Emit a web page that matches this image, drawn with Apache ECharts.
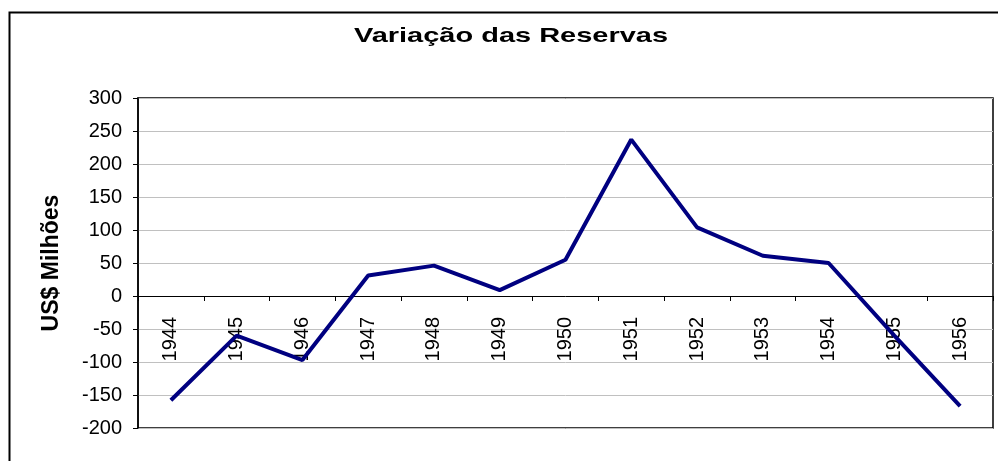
<!DOCTYPE html>
<html>
<head>
<meta charset="utf-8">
<script src="https://cdn.jsdelivr.net/npm/echarts@6/dist/echarts.min.js"></script>
<style>
  html, body { margin: 0; padding: 0; background: #fff; }
  #chart { width: 998px; height: 461px; }
</style>
</head>
<body>
<div id="chart"></div>
<script>
// anos e variação das reservas (US$ milhões)
const years = ['1944', '1945', '1946', '1947', '1948', '1949', '1950', '1951', '1952', '1953', '1954', '1955', '1956']
const reserves = [-158, -60, -97, 31, 46, 9, 55, 237, 104, 61, 50, -60, -167]
const yMin = -200
const yMax = 300

const chart = echarts.init(document.getElementById('chart'))
const labelFont = 'Arial, "Liberation Sans", sans-serif'

const gridTop = 98
const gridBottom = 33
const gridHeight = 461 - gridTop - gridBottom
// distance of the zero line from the bottom of the plot
const zeroOffset = gridHeight * (0 - yMin) / (yMax - yMin)

const option = {
  animation: false,
  graphic: [
    {
      type: 'rect',
      shape: { x: 9.5, y: 12.5, width: 1000, height: 460 },
      style: { fill: 'none', stroke: '#000', lineWidth: 2 },
      silent: true
    },
    {
      type: 'text',
      x: 511,
      y: 36,
      scaleX: 1.38,
      style: {
        text: 'Variação das Reservas',
        font: 'bold 21px ' + labelFont,
        fill: '#000',
        align: 'center',
        verticalAlign: 'middle'
      },
      silent: true
    }
  ],
  grid: {
    left: 138,
    top: gridTop,
    right: 5,
    bottom: gridBottom,
    show: true,
    borderColor: '#000',
    borderWidth: 1.5,
    containLabel: false,
    outerBoundsMode: 'none'
  },
  xAxis: {
    type: 'category',
    data: years,
    boundaryGap: true,
    offset: -zeroOffset,
    axisLine: { onZero: false, lineStyle: { color: '#000', width: 1 } },
    axisTick: { show: true, length: 5, inside: false, lineStyle: { color: '#000' } },
    axisLabel: {
      rotate: 90,
      margin: 21,
      fontFamily: labelFont,
      fontSize: 20,
      color: '#000'
    },
    splitLine: { show: false }
  },
  yAxis: {
    type: 'value',
    min: yMin,
    max: yMax,
    interval: 50,
    name: 'US$ Milhões',
    nameLocation: 'middle',
    nameGap: 75,
    nameTextStyle: {
      fontFamily: labelFont,
      fontSize: 23,
      fontWeight: 'bold',
      color: '#000'
    },
    axisLine: { show: true, lineStyle: { color: '#000', width: 1.5 } },
    axisTick: { show: true, length: 5, lineStyle: { color: '#000' } },
    axisLabel: {
      margin: 16,
      fontFamily: labelFont,
      fontSize: 20,
      color: '#000'
    },
    splitLine: { show: true, lineStyle: { color: '#c0c0c0', width: 1 } }
  },
  series: [
    {
      type: 'line',
      data: reserves,
      symbol: 'none',
      smooth: false,
      lineStyle: { color: '#000080', width: 4 },
      itemStyle: { color: '#000080' },
      z: 3
    }
  ]
}

chart.setOption(option)
</script>
</body>
</html>
